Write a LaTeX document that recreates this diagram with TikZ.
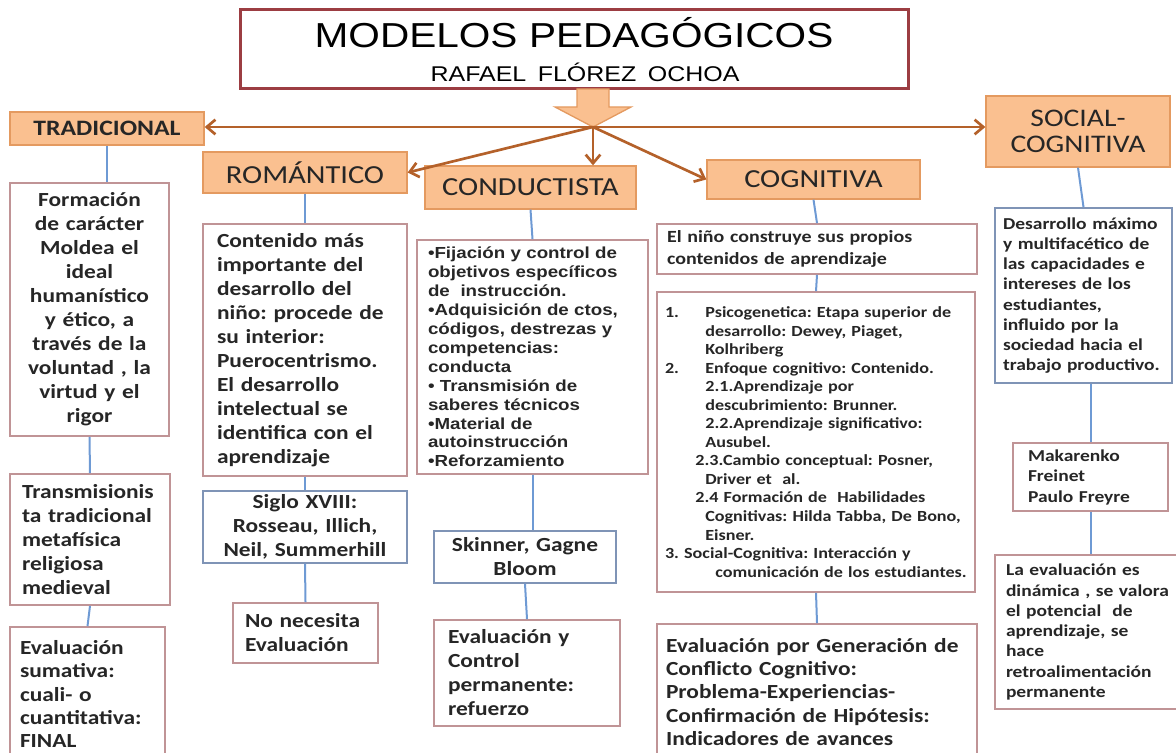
\documentclass[tikz,border=0pt]{standalone}
\usepackage{fontspec}
\setmainfont{Carlito}[FakeStretch=1.17]
\newfontfamily\arialf{Liberation Sans}[FakeStretch=1.17]
\usetikzlibrary{arrows.meta}
\frenchspacing
\definecolor{peach}{HTML}{FAC090}
\definecolor{peachline}{HTML}{E49A60}
\definecolor{titlered}{HTML}{9C3D42}
\definecolor{arrowbrown}{HTML}{B4612A}
\definecolor{rose}{HTML}{C09496}
\definecolor{bluegray}{HTML}{7F94B6}
\definecolor{linkblue}{HTML}{6E9AD4}
\definecolor{ink}{HTML}{262626}
\begin{document}
\begin{tikzpicture}[x=0.75pt,y=-0.75pt,
	>={Straight Barb[length=6.5pt,width=11pt]},
	head/.style={draw=peachline,fill=peach,line width=1pt,inner sep=0pt,text=ink,font=\fontsize{19.5}{22}\selectfont},
	card/.style={draw=rose,line width=1.3pt,fill=white,inner ysep=0pt,inner xsep=4.5pt,text=ink,align=left,font=\bfseries\fontsize{15}{18}\selectfont},
	bluecard/.style={card,draw=bluegray},
	link/.style={draw=linkblue,line width=1.5pt},
	branch/.style={draw=arrowbrown,line width=2pt,->}]
	\useasboundingbox (0,0) rectangle (1176,752);
	%title
	\node[draw=titlered,line width=2.25pt,minimum width=501pt,minimum height=59.25pt,text width=480pt,align=center,font=\arialf\fontsize{26}{26}\selectfont,text=black] (title) at (574,49.5)
		{MODELOS PEDAGÓGICOS\\\fontsize{16}{19.5}\selectfont\hspace*{16.5pt}RAFAEL FLÓREZ OCHOA};
	\draw[fill=peach,draw=peachline,line width=1pt] (577,89) -- (609,89) -- (609,107) -- (631,107) -- (593,127) -- (555,107) -- (577,107) -- cycle;
	\coordinate (hub) at (593,127);
	%models
	\node[head,minimum width=145.5pt,minimum height=24.75pt,font=\bfseries\fontsize{16.5}{18}\selectfont] (trad) at (107,128.5) {TRADICIONAL};
	\node[head,minimum width=153pt,minimum height=30.75pt] (rom) at (305,172.5) {ROMÁNTICO};
	\node[head,minimum width=158.25pt,minimum height=32.25pt] (cond) at (530.5,187.5) {CONDUCTISTA};
	\node[head,minimum width=159.75pt,minimum height=29.25pt] (cog) at (813.5,179.5) {COGNITIVA};
	\node[head,minimum width=138pt,minimum height=53.25pt,align=center,font=\fontsize{19}{20}\selectfont] (soc) at (1078,131.5) {SOCIAL-\\COGNITIVA};
	\draw[branch] (hub) -- (hub -| trad.east);
	\draw[branch] (hub) -- (rom.east);
	\draw[branch] (hub) -- (hub |- cond.north);
	\draw[branch] (hub) -- (cog.west);
	\draw[branch] (hub) -- (hub -| soc.west);
	% tradicional
	\node[card,text width=110.25pt,minimum height=189.75pt,align=center] (t1) at (89.5,309.5)
		{Formación\\de carácter\\Moldea el\\ideal\\humanístico\\y ético, a\\través de la\\voluntad , la\\virtud y el\\rigor};
	\node[card,inner xsep=9pt,text width=102pt,minimum height=98.25pt] (t2) at (90,539.5)
		{Transmisionis\\ta tradicional\\metafísica\\religiosa\\medieval};
	\node[card,inner xsep=7.5pt,text width=101.25pt,minimum height=100.5pt,font=\bfseries\fontsize{15}{17.4}\selectfont] (t3) at (87.5,694)
		{Evaluación\\sumativa:\\cuali- o\\cuantitativa:\\FINAL};
	% romantico
	\node[card,inner xsep=10.5pt,text width=132pt,minimum height=189pt] (r1) at (305,350)
		{Contenido más\\importante del\\desarrollo del\\niño: procede de\\su interior:\\Puerocentrismo.\\El desarrollo\\intelectual se\\identifica con el\\aprendizaje};
	\node[bluecard,text width=144pt,minimum height=54pt,align=center] (r2) at (305,527)
		{Siglo XVIII:\\Rosseau, Illich,\\Neil, Summerhill};
	\node[card,inner xsep=9pt,text width=90.75pt,minimum height=45pt] (r3) at (305.5,633)
		{No necesita\\Evaluación};
	% conductista
	\node[card,inner xsep=8.25pt,text width=156.75pt,minimum height=175.5pt,font=\arialf\bfseries\fontsize{12}{14.2}\selectfont] (c1) at (532.5,357)
		{•Fijación y control de\\objetivos específicos\\de~~instrucción.\\•Adquisición de ctos,\\códigos, destrezas y\\competencias:\\conducta\\• Transmisión de\\saberes técnicos\\•Material de\\autoinstrucción\\•Reforzamiento};
	\node[bluecard,text width=127.5pt,minimum height=39pt,align=center] (c2) at (525,557)
		{Skinner, Gagne\\Bloom};
	\node[card,inner xsep=10.5pt,text width=118.5pt,minimum height=79.5pt] (c3) at (527,673)
		{Evaluación y\\Control\\permanente:\\refuerzo};
	% cognitiva
	\node[card,inner xsep=7.5pt,text width=225pt,minimum height=37.5pt,font=\bfseries\fontsize{12.8}{16.5}\selectfont] (g1) at (817,249)
		{El niño construye sus propios\\contenidos de aprendizaje};
	\node[card,inner xsep=1pt,text width=236.5pt,minimum height=225pt,font=\bfseries\fontsize{11.6}{13.9}\selectfont] (g2) at (816,442)
		{\makebox[35.25pt][l]{\hspace*{5pt}1.}Psicogenetica: Etapa superior de\\
		\hspace*{35.25pt}desarrollo: Dewey, Piaget,\\
		\hspace*{35.25pt}Kolhriberg\\
		\makebox[35.25pt][l]{\hspace*{5pt}2.}Enfoque cognitivo: Contenido.\\
		\hspace*{35.25pt}2.1.Aprendizaje por\\
		\hspace*{35.25pt}descubrimiento: Brunner.\\
		\hspace*{35.25pt}2.2.Aprendizaje significativo:\\
		\hspace*{35.25pt}Ausubel.\\
		\hspace*{27.75pt}2.3.Cambio conceptual: Posner,\\
		\hspace*{35.25pt}Driver et~~al.\\
		\hspace*{27.75pt}2.4 Formación de~~Habilidades\\
		\hspace*{35.25pt}Cognitivas: Hilda Tabba, De Bono,\\
		\hspace*{35.25pt}Eisner.\\
		\hspace*{5pt}3. Social-Cognitiva: Interacción y\\
		\hspace*{42.75pt}comunicación de los estudiantes.};
	\node[card,inner xsep=6.75pt,text width=226.5pt,minimum height=102pt,font=\bfseries\fontsize{15}{17.6}\selectfont] (g3) at (817,692)
		{Evaluación por Generación de\\Conflicto Cognitivo:\\Problema-Experiencias-\\Confirmación de Hipótesis:\\Indicadores de avances};
	% social-cognitiva
	\node[bluecard,inner xsep=6pt,text width=120.75pt,minimum height=131.25pt,font=\bfseries\fontsize{12.5}{15.2}\selectfont] (s1) at (1083.5,295.5)
		{Desarrollo máximo\\y multifacético de\\las capacidades e\\intereses de los\\estudiantes,\\influido por la\\sociedad hacia el\\trabajo productivo.};
	\node[card,inner xsep=11.25pt,text width=93.75pt,minimum height=51pt,font=\bfseries\fontsize{12.5}{15.4}\selectfont] (s2) at (1090.5,477)
		{Makarenko\\Freinet\\Paulo Freyre};
	\node[card,inner xsep=8.25pt,text width=122.25pt,minimum height=115.5pt,font=\bfseries\fontsize{12.5}{15.2}\selectfont] (s3) at (1087.5,632)
		{La evaluación es\\dinámica , se valora\\el potencial~~de\\aprendizaje, se\\hace\\retroalimentación\\permanente};
	% links
	\draw[link] (trad.south) -- (trad.south |- t1.north);
	\draw[link] (c1.south) -- (c1.south |- c2.north);
	\draw[link] (s2.north |- s1.south) -- (s2.north);
	\draw[link] (s2.south) -- (s2.south |- s3.north);
	\foreach \from/\to in {t1/t2,t2/t3,rom/r1,r1/r2,r2/r3,cond/c1,c2/c3,cog/g1,g1/g2,g2/g3,soc/s1}
		\draw[link] (\from.south) -- (\to.north);
\end{tikzpicture}
\end{document}
